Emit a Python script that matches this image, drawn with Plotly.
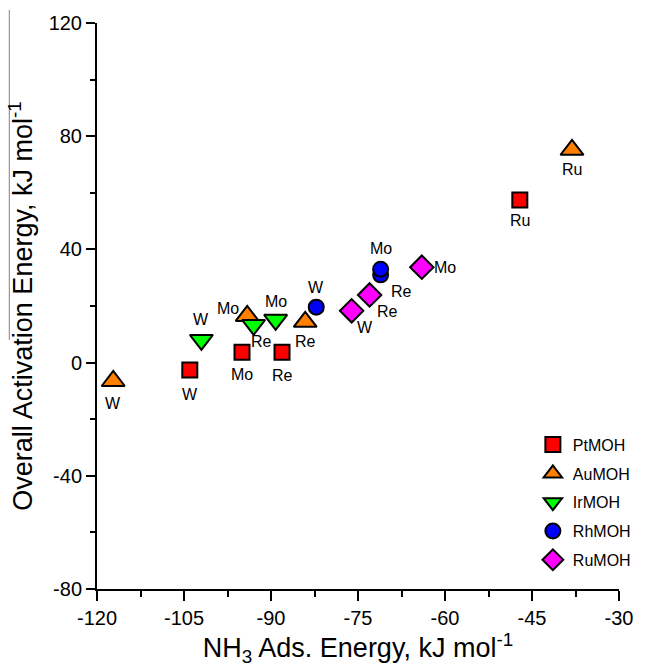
import plotly.graph_objects as go

# NH3 adsorption energy (kJ/mol) and overall activation energy (kJ/mol)
pt_metals = ["W", "Mo", "Re", "Ru"]
pt_ads = [-104.0, -95.0, -88.1, -47.1]
pt_act = [-2.6, 3.7, 3.7, 57.5]

au_metals = ["W", "Mo", "Re", "Ru"]
au_ads = [-117.2, -94.1, -84.1, -38.1]
au_act = [-6.5, 16.5, 14.4, 75.2]

ir_metals = ["W", "Re", "Mo"]
ir_ads = [-102.0, -93.0, -89.2]
ir_act = [8.0, 13.3, 15.1]

rh_metals = ["W", "Re", "Mo"]
rh_ads = [-82.2, -71.1, -71.1]
rh_act = [19.6, 31.0, 33.0]

ru_metals = ["W", "Re", "Mo"]
ru_ads = [-76.1, -73.0, -64.0]
ru_act = [18.3, 23.9, 33.7]

x_ticks = [-120, -105, -90, -75, -60, -45, -30]
y_ticks = [-80, -40, 0, 40, 80, 120]

series = [
    ("PtMOH", pt_metals, pt_ads, pt_act, "square", "#FF0000", 15),
    ("AuMOH", au_metals, au_ads, au_act, "triangle-up", "#FF8000", 20),
    ("IrMOH", ir_metals, ir_ads, ir_act, "triangle-down", "#00FF00", 20),
    ("RhMOH", rh_metals, rh_ads, rh_act, "circle", "#0000FF", 15),
    ("RuMOH", ru_metals, ru_ads, ru_act, "diamond", "#FF00FF", 18),
]

# label offsets (pixels: dx right, dy up) per series and metal
label_offsets = {
    "PtMOH": {"W": (0, -25), "Mo": (0, -22), "Re": (0, -23), "Ru": (0, -21)},
    "AuMOH": {"W": (0, -22), "Mo": (-19, 7), "Re": (0, -20), "Ru": (0, -20)},
    "IrMOH": {"W": (0, 20), "Re": (8, -17), "Mo": (0, 18)},
    "RhMOH": {"W": (0, 20), "Re": (21, -17), "Mo": (0, 21)},
    "RuMOH": {"W": (13, -17), "Re": (18, -17), "Mo": (23, 0)},
}

narrow = "Liberation Sans Narrow, Arial Narrow, Liberation Sans, Arial"
label_font = dict(family=narrow, size=16, color="black")
tick_font = dict(family=narrow, size=20, color="black")
title_font = dict(family="Liberation Sans, Arial", size=27, color="black")

fig = go.Figure()
annotations = []
for name, metals, xs, ys, symbol, color, size in series:
    fig.add_trace(go.Scatter(
        x=xs, y=ys, mode="markers", name=name,
        legendgroup=name,
        marker=dict(symbol=symbol, color=color, size=size,
                    line=dict(color="black", width=2)),
    ))
    for m, xv, yv in zip(metals, xs, ys):
        dx, dy = label_offsets[name][m]
        annotations.append(dict(
            x=xv, y=yv, text=m, showarrow=False, xref="x", yref="y",
            xshift=dx, yshift=dy, xanchor="center", yanchor="middle",
            font=label_font,
        ))

fig.update_layout(
    width=648, height=667,
    margin=dict(l=97, r=17, t=23, b=78),
    paper_bgcolor="white", plot_bgcolor="white",
    showlegend=True,
    annotations=annotations,
    legend=dict(
        x=0.835, y=0.285, xanchor="left", yanchor="top",
        font=dict(family=narrow, size=16, color="black"),
        bgcolor="rgba(0,0,0,0)", tracegroupgap=5,
    ),
    xaxis=dict(
        range=[-120, -30], tickvals=x_ticks, ticktext=[str(v) for v in x_ticks],
        showline=True, linecolor="black", linewidth=2, mirror=False,
        ticks="outside", ticklen=10, tickwidth=2, tickcolor="black",
        minor=dict(ticks="outside", ticklen=6, tickwidth=2, tickcolor="black", dtick=7.5, showgrid=False),
        showgrid=False, zeroline=False, tickfont=tick_font,
        title=dict(text="NH<sub>3</sub> Ads. Energy, kJ mol<sup>-1</sup>", font=title_font, standoff=5),
    ),
    yaxis=dict(
        range=[-80, 120], tickvals=y_ticks, ticktext=[str(v) for v in y_ticks],
        showline=True, linecolor="black", linewidth=2, mirror=False,
        ticks="outside", ticklen=9, tickwidth=2, tickcolor="black",
        minor=dict(ticks="outside", ticklen=5, tickwidth=2, tickcolor="black", dtick=20, showgrid=False),
        showgrid=False, zeroline=False, tickfont=tick_font,
        title=dict(text="Overall Activation Energy, kJ mol<sup>-1</sup>", font=title_font, standoff=8),
    ),
    shapes=[dict(
        type="line", xref="paper", yref="paper",
        x0=-0.168, x1=-0.168, y0=0.44, y1=1.023,
        line=dict(color="#808080", width=1),
    )],
)

fig.write_html("out.html")
